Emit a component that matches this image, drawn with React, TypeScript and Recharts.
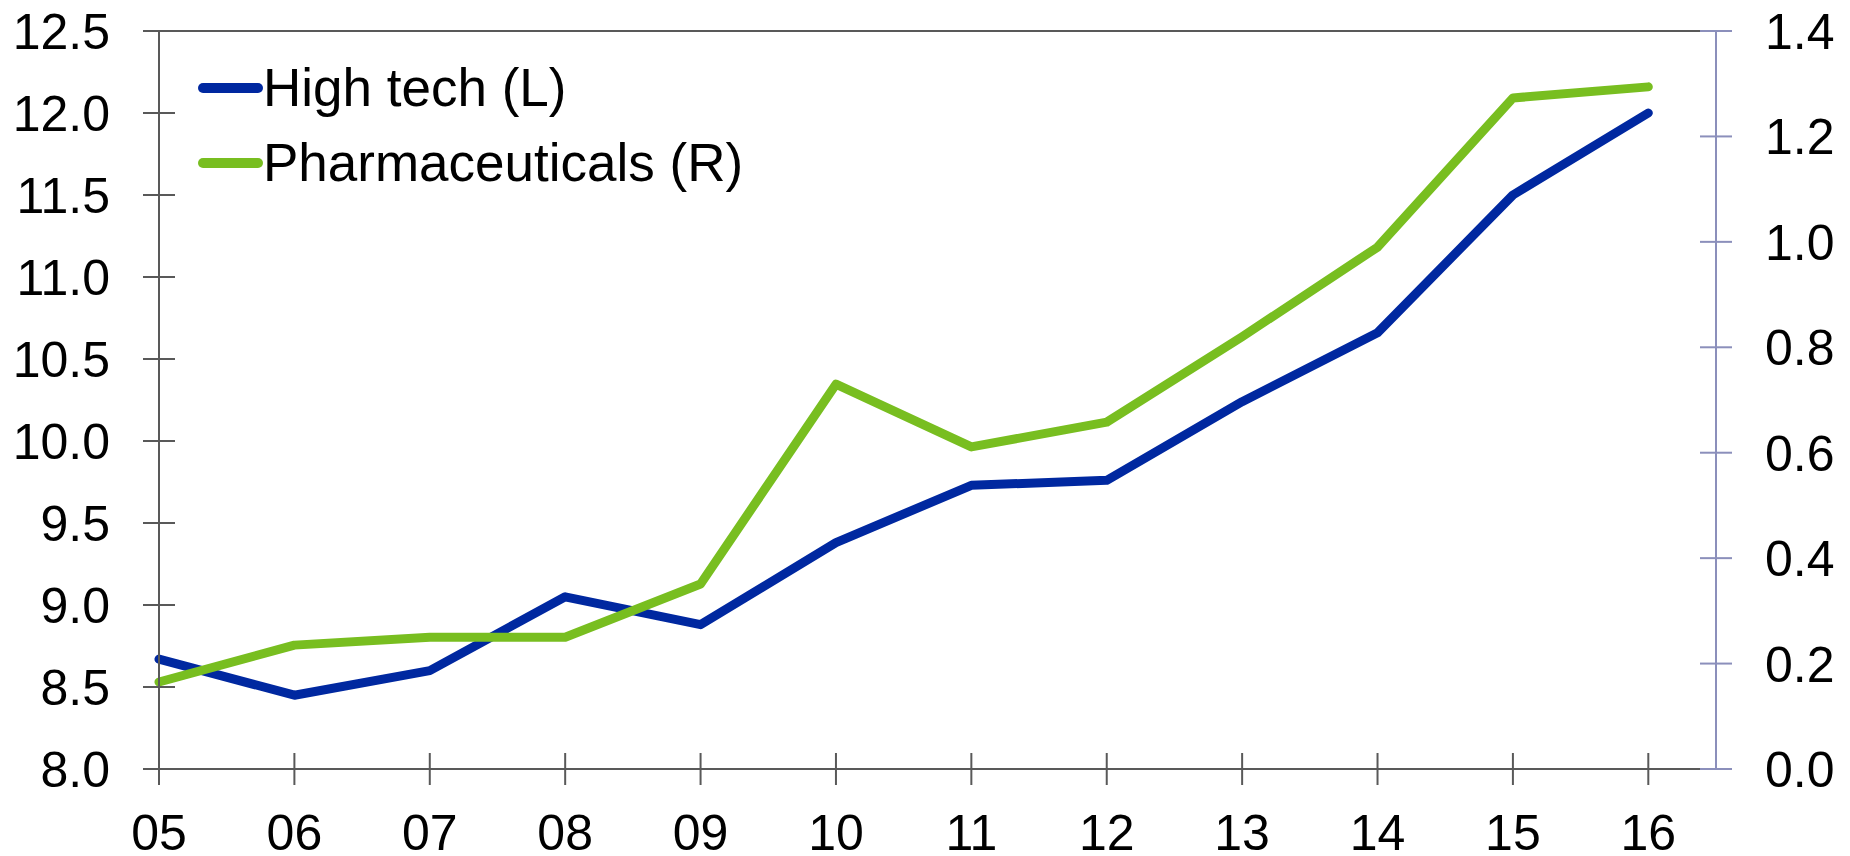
import React from 'react';
import { LineChart, Line, XAxis, YAxis, Legend, ReferenceLine } from 'recharts';

const years = ['05', '06', '07', '08', '09', '10', '11', '12', '13', '14', '15', '16'];
const highTech = [8.67, 8.45, 8.6, 9.05, 8.88, 9.38, 9.73, 9.76, 10.24, 10.66, 11.5, 12.0];
const pharma = [0.165, 0.235, 0.25, 0.25, 0.351, 0.73, 0.611, 0.658, 0.82, 0.99, 1.273, 1.294];

const leftTicks = [8.0, 8.5, 9.0, 9.5, 10.0, 10.5, 11.0, 11.5, 12.0, 12.5];
const rightTicks = [0.0, 0.2, 0.4, 0.6, 0.8, 1.0, 1.2, 1.4];

const BLUE = '#0028a0';
const GREEN = '#78be20';
const AXIS = '#595959';
const RIGHT_AXIS = '#8b8fbb';
const FONT = '"Liberation Sans", Arial, sans-serif';

const data = years.map((y, i) => ({ x: i, label: y, high: highTech[i], pharma: pharma[i] }));

const BottomTick = (props: any) => {
    const { x, y, payload } = props;
    return (
        <g>
            <line x1={x} x2={x} y1={y - 16} y2={y + 16} stroke={AXIS} strokeWidth={2} />
            <text x={x} y={y + 81} textAnchor="middle" fontSize={50} fontFamily={FONT} fill="#000">
                {years[payload.value]}
            </text>
        </g>
    );
};

const LeftTick = (props: any) => {
    const { x, y, payload } = props;
    return (
        <g>
            <line x1={x - 16} x2={x + 16} y1={y} y2={y} stroke={AXIS} strokeWidth={2} />
            <text x={x - 49} y={y} dy="0.36em" textAnchor="end" fontSize={50} fontFamily={FONT} fill="#000">
                {Number(payload.value).toFixed(1)}
            </text>
        </g>
    );
};

const RightTick = (props: any) => {
    const { x, y, payload } = props;
    return (
        <g>
            <line x1={x - 16} x2={x + 16} y1={y} y2={y} stroke={RIGHT_AXIS} strokeWidth={2} />
            <text x={x + 49} y={y} dy="0.36em" textAnchor="start" fontSize={50} fontFamily={FONT} fill="#000">
                {Number(payload.value).toFixed(1)}
            </text>
        </g>
    );
};

const legendItems = [
    { name: 'High tech (L)', color: BLUE },
    { name: 'Pharmaceuticals (R)', color: GREEN },
];

const LegendContent = () => (
    <div style={{ fontFamily: FONT, fontSize: 53, color: '#000' }}>
        {legendItems.map((item) => (
            <div key={item.name} style={{ display: 'flex', alignItems: 'center', height: 75 }}>
                <svg width={65} height={12}>
                    <line x1={5} x2={60} y1={6} y2={6} stroke={item.color} strokeWidth={10} strokeLinecap="round" />
                </svg>
                <span style={{ lineHeight: '75px' }}>{item.name}</span>
            </div>
        ))}
    </div>
);

export default function App() {
    return (
        <div style={{ position: 'absolute', left: 0, top: 0, width: 1850, height: 856, background: '#fff' }}>
            <LineChart width={1850} height={856} data={data} margin={{ top: 31, right: 0, bottom: 0, left: 0 }}>
                <XAxis
                    dataKey="x"
                    type="number"
                    domain={[0, 11.5]}
                    ticks={years.map((_, i) => i)}
                    height={87}
                    axisLine={{ stroke: AXIS, strokeWidth: 2 }}
                    tickLine={false}
                    tickSize={0}
                    tickMargin={0}
                    tick={<BottomTick />}
                    interval={0}
                />
                <YAxis
                    yAxisId="left"
                    orientation="left"
                    domain={[8, 12.5]}
                    ticks={leftTicks}
                    width={159}
                    axisLine={{ stroke: AXIS, strokeWidth: 2 }}
                    tickLine={false}
                    tickSize={0}
                    tickMargin={0}
                    tick={<LeftTick />}
                    interval={0}
                />
                <YAxis
                    yAxisId="right"
                    orientation="right"
                    domain={[0, 1.4]}
                    ticks={rightTicks}
                    width={134}
                    axisLine={{ stroke: RIGHT_AXIS, strokeWidth: 2 }}
                    tickLine={false}
                    tickSize={0}
                    tickMargin={0}
                    tick={<RightTick />}
                    interval={0}
                />
                <ReferenceLine yAxisId="left" y={12.5} stroke={AXIS} strokeWidth={2} />
                <Legend
                    layout="horizontal"
                    verticalAlign="middle"
                    align="center"
                    content={<LegendContent />}
                    wrapperStyle={{ position: 'absolute', top: 50, left: 198, width: 'auto' }}
                />
                <Line
                    yAxisId="left"
                    type="linear"
                    dataKey="high"
                    name="High tech (L)"
                    stroke={BLUE}
                    strokeWidth={9}
                    strokeLinecap="round"
                    strokeLinejoin="round"
                    dot={false}
                    isAnimationActive={false}
                />
                <Line
                    yAxisId="right"
                    type="linear"
                    dataKey="pharma"
                    name="Pharmaceuticals (R)"
                    stroke={GREEN}
                    strokeWidth={9}
                    strokeLinecap="round"
                    strokeLinejoin="round"
                    dot={false}
                    isAnimationActive={false}
                />
            </LineChart>
        </div>
    );
}
